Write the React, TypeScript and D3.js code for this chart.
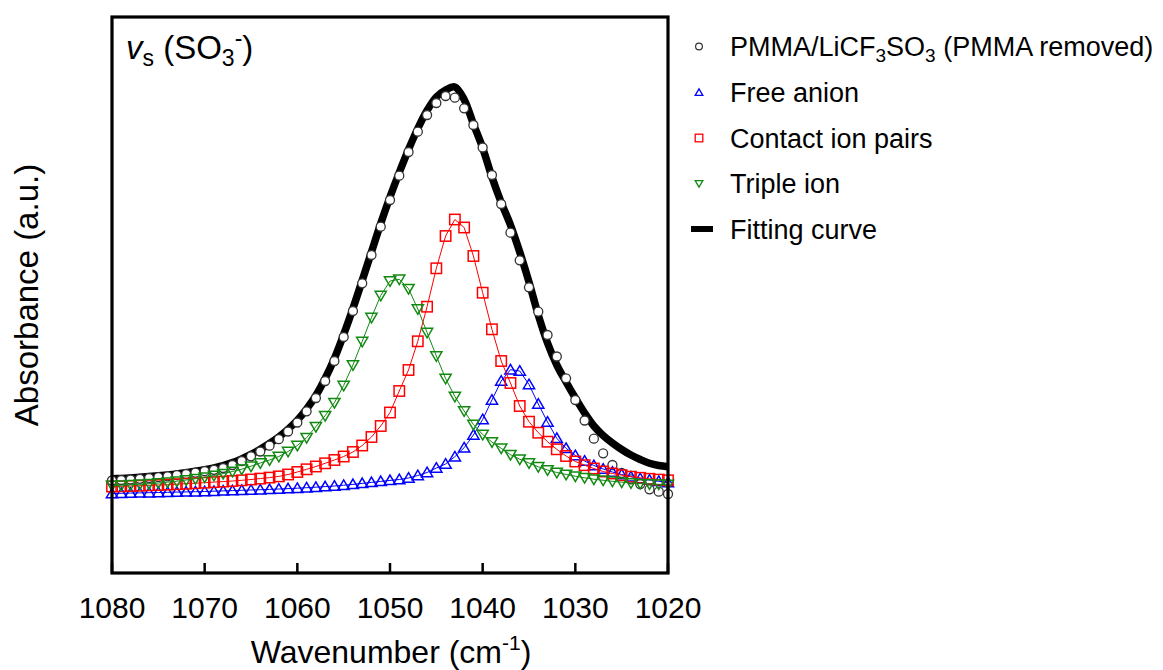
import React from "react";
import * as d3 from "d3";

// Wavenumber grid (cm-1), one point per marker
const wavenumbers = [
  1080, 1079, 1078, 1077, 1076, 1075, 1074, 1073, 1072, 1071,
  1070, 1069, 1068, 1067, 1066, 1065, 1064, 1063, 1062, 1061,
  1060, 1059, 1058, 1057, 1056, 1055, 1054, 1053, 1052, 1051,
  1050, 1049, 1048, 1047, 1046, 1045, 1044, 1043, 1042, 1041,
  1040, 1039, 1038, 1037, 1036, 1035, 1034, 1033, 1032, 1031,
  1030, 1029, 1028, 1027, 1026, 1025, 1024, 1023, 1022, 1021, 1020,
];

// Absorbance (arbitrary units)
const measured = [
  92.5, 93, 93.5, 94.2, 95, 95.8, 96.7, 97.8, 99, 100.3,
  101.8, 103.2, 105, 108, 112, 116.7, 121.5, 127.3, 133.8, 141.5,
  150.5, 161.7, 175, 192, 212, 236, 262, 289.7, 318, 346.3,
  373, 397.3, 421, 441.3, 458, 470, 477, 475.3, 464.7, 448,
  425.5, 398, 369, 340.3, 312.7, 285.7, 261.3, 238, 216.5, 194.7,
  173, 152.5, 134.3, 119.7, 108, 100, 93.7, 89, 83.7, 81.3, 79,
];

const freeAnion = [
  79.5, 79.7, 79.9, 80.1, 80.3, 80.5, 80.7, 80.9, 81.1, 81.3,
  81.5, 81.8, 82.1, 82.4, 82.7, 83, 83.3, 83.6, 84, 84.4,
  84.8, 85.3, 85.8, 86.4, 87, 87.8, 88.6, 89.6, 90.6, 91.6,
  92.6, 93.5, 95, 97.5, 100.5, 105, 109, 116.3, 125.3, 138,
  153.5, 173, 192, 203.3, 202, 188.5, 169, 151, 134.7, 124.7,
  117.5, 112, 107.5, 104, 101, 98.5, 96.3, 94.5, 93, 91.7, 90.5,
];

const contactIonPairs = [
  86.5, 86.7, 87, 87.3, 87.7, 88, 88.4, 88.8, 89.3, 89.8,
  90.3, 90.9, 91.4, 92, 92.7, 93.5, 94.4, 95.4, 96.6, 98.5,
  101, 103.7, 106.5, 109.7, 113, 116.5, 121, 127.5, 136, 147,
  160.5, 182, 203, 231.7, 266.3, 304.7, 337, 353.5, 345.5, 317,
  280.3, 243.7, 212, 190, 167, 151.3, 140.3, 131.3, 123.7, 117,
  111.5, 107.8, 104.5, 101.5, 99.5, 97.8, 96.3, 95.2, 94.2, 93.4, 92.7,
];

const tripleIon = [
  87.5, 87.8, 88.2, 88.7, 89.3, 90, 90.8, 91.8, 93, 94.3,
  95.8, 97.5, 99.4, 101.5, 103.8, 106.8, 110, 113, 116.5, 121.5,
  127.5, 135.3, 146.3, 157.3, 170.3, 187.5, 208, 231.5, 255.5, 277.5,
  292, 293.7, 284.3, 264, 240.5, 217, 194.5, 176.5, 162, 148.5,
  138.5, 131, 124.7, 118.3, 113.8, 110, 106.2, 103, 100.5, 98.5,
  96.8, 95.2, 93.8, 92.7, 91.7, 90.8, 90, 89.4, 89, 88.7, 88.5,
];

const fittingCurve = [
  94.2, 94.6, 95.1, 95.7, 96.4, 97.2, 98.1, 99.1, 100.3, 101.7,
  103.3, 105.2, 107.4, 110.4, 114.2, 118.7, 123.7, 129.5, 136, 143.7,
  152.7, 164, 177.5, 194.5, 214.5, 238.5, 264.5, 292.5, 321, 349.5,
  376, 400.5, 423.5, 444.5, 462.5, 476, 483, 486, 473.5, 449,
  425, 396, 370.5, 348, 321, 291, 258, 230, 208, 191,
  175, 160, 147, 137.5, 130, 123.5, 118, 113.5, 109.7, 107.5, 106.3,
];

const xTicks = [1080, 1070, 1060, 1050, 1040, 1030, 1020];

const FONT = "'Liberation Sans', Arial, Helvetica, sans-serif";
const BLUE = "#0000ff";
const RED = "#ff0000";
const GREEN = "#128a12";

const plot = { left: 112, right: 668, top: 17, bottom: 573 };

const x = d3.scaleLinear().domain([1080, 1020]).range([plot.left, plot.right]);
const y = d3.scaleLinear().domain([0, 556]).range([plot.bottom, plot.top]);

const triUp = (s: number) =>
  `M0,${-s * 0.95}L${s},${s * 0.75}L${-s},${s * 0.75}Z`;
const triDown = (s: number) =>
  `M0,${s * 0.95}L${s},${-s * 0.75}L${-s},${-s * 0.75}Z`;

function seriesLine(vals: number[]) {
  return d3
    .line<number>()
    .x((_, i) => x(wavenumbers[i]))
    .y((v) => y(v))(vals) as string;
}

export default function App() {
  const fitPath = d3
    .line<number>()
    .x((_, i) => x(wavenumbers[i]))
    .y((v) => y(v))
    .curve(d3.curveCatmullRom.alpha(0.5))(fittingCurve) as string;

  const legendX = 699;
  const legendTextX = 730;
  const legendY = [46.5, 92.5, 138, 183.5, 229];
  const sq = 10.4;

  return (
    <svg
      width={1163}
      height={670}
      style={{ position: "absolute", left: 0, top: 0, display: "block", background: "#fff" }}
      fontFamily={FONT}
    >
      <rect x={0} y={0} width={1163} height={670} fill="#fff" />

      {/* fitting curve */}
      <path d={fitPath} fill="none" stroke="#000" strokeWidth={7.5} strokeLinejoin="round" />

      {/* measured data */}
      {measured.map((v, i) => (
        <circle
          key={"m" + i}
          cx={x(wavenumbers[i])}
          cy={y(v)}
          r={4.5}
          fill="#fff"
          stroke="#333"
          strokeWidth={1.3}
        />
      ))}

      {/* free anion */}
      <path d={seriesLine(freeAnion)} fill="none" stroke={BLUE} strokeWidth={1} />
      {freeAnion.map((v, i) => (
        <path
          key={"b" + i}
          d={triUp(5.6)}
          transform={`translate(${x(wavenumbers[i])},${y(v)})`}
          fill="none"
          stroke={BLUE}
          strokeWidth={1.5}
        />
      ))}

      {/* contact ion pairs */}
      <path d={seriesLine(contactIonPairs)} fill="none" stroke={RED} strokeWidth={1} />
      {contactIonPairs.map((v, i) => (
        <rect
          key={"r" + i}
          x={x(wavenumbers[i]) - sq / 2}
          y={y(v) - sq / 2}
          width={sq}
          height={sq}
          fill="none"
          stroke={RED}
          strokeWidth={1.5}
        />
      ))}

      {/* triple ion */}
      <path d={seriesLine(tripleIon)} fill="none" stroke={GREEN} strokeWidth={1} />
      {tripleIon.map((v, i) => (
        <path
          key={"g" + i}
          d={triDown(5.6)}
          transform={`translate(${x(wavenumbers[i])},${y(v)})`}
          fill="none"
          stroke={GREEN}
          strokeWidth={1.5}
        />
      ))}

      {/* frame */}
      <rect
        x={plot.left}
        y={plot.top}
        width={plot.right - plot.left}
        height={plot.bottom - plot.top}
        fill="none"
        stroke="#000"
        strokeWidth={3.2}
      />

      {/* x ticks */}
      {xTicks.map((t) => (
        <g key={"t" + t}>
          <line x1={x(t)} x2={x(t)} y1={plot.bottom} y2={plot.bottom - 10} stroke="#000" strokeWidth={2.5} />
          <text x={x(t)} y={618} fontSize={30} textAnchor="middle" fill="#000">
            {t}
          </text>
        </g>
      ))}

      {/* axis titles */}
      <text x={391} y={663} fontSize={32} textAnchor="middle" fill="#000">
        Wavenumber (cm
        <tspan fontSize={21} dy={-13}>-1</tspan>
        <tspan dy={13}>)</tspan>
      </text>
      <text
        transform={`translate(38,${(plot.top + plot.bottom) / 2}) rotate(-90)`}
        fontSize={33}
        textAnchor="middle"
        fill="#000"
      >
        Absorbance (a.u.)
      </text>

      {/* panel title */}
      <text x={126} y={59} fontSize={33} fill="#000">
        <tspan fontStyle="italic">v</tspan>
        <tspan fontSize={23} dy={7}>s</tspan>
        <tspan dy={-7}> (SO</tspan>
        <tspan fontSize={23} dy={7}>3</tspan>
        <tspan fontSize={23} dy={-20}>-</tspan>
        <tspan dy={13}>)</tspan>
      </text>

      {/* legend */}
      <circle cx={legendX} cy={legendY[0]} r={3.4} fill="#fff" stroke="#333" strokeWidth={1.2} />
      <path d={triUp(3.8)} transform={`translate(${legendX},${legendY[1]})`} fill="none" stroke={BLUE} strokeWidth={1.3} />
      <rect x={legendX - 3.8} y={legendY[2] - 3.8} width={7.6} height={7.6} fill="none" stroke={RED} strokeWidth={1.3} />
      <path d={triDown(3.8)} transform={`translate(${legendX},${legendY[3]})`} fill="none" stroke={GREEN} strokeWidth={1.3} />
      <line x1={691} x2={713} y1={legendY[4]} y2={legendY[4]} stroke="#000" strokeWidth={6} />

      <text x={legendTextX} y={legendY[0] + 9.5} fontSize={27} fill="#000">
        PMMA/LiCF<tspan fontSize={19} dy={6}>3</tspan>
        <tspan dy={-6}>SO</tspan>
        <tspan fontSize={19} dy={6}>3</tspan>
        <tspan dy={-6}> (PMMA  removed)</tspan>
      </text>
      <text x={legendTextX} y={legendY[1] + 9.5} fontSize={27} fill="#000">Free anion</text>
      <text x={legendTextX} y={legendY[2] + 9.5} fontSize={27} fill="#000">Contact ion pairs</text>
      <text x={legendTextX} y={legendY[3] + 9.5} fontSize={27} fill="#000">Triple ion</text>
      <text x={legendTextX} y={legendY[4] + 9.5} fontSize={27} fill="#000">Fitting curve</text>
    </svg>
  );
}
